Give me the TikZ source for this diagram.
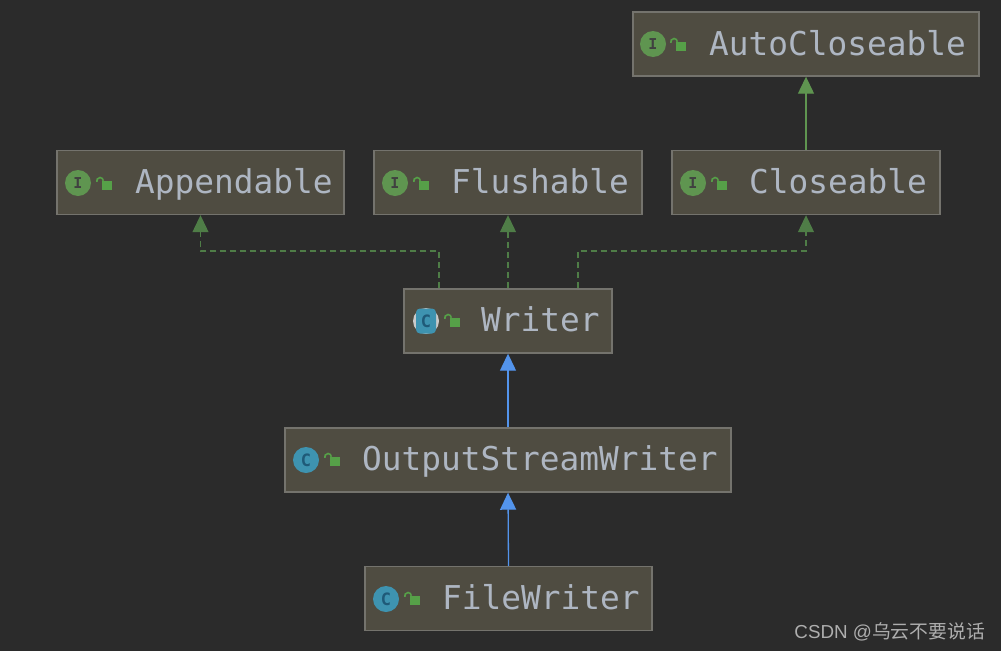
\documentclass[tikz,border=0pt]{standalone}
\usepackage{xcolor}
\usepackage{fontspec}
\setmonofont{DejaVu Sans Mono}
\newfontfamily\cjkfont{Noto Sans CJK SC}
\newfontfamily\markfont{Liberation Sans}
\usepackage{tikz}
\usetikzlibrary{arrows.meta, positioning}
\definecolor{canvas}{HTML}{2B2B2B}
\definecolor{boxfill}{HTML}{4F4C41}
\definecolor{boxline}{HTML}{74736D}
\definecolor{nametext}{HTML}{AEB6C2}
\definecolor{leafgreen}{HTML}{5F9550}
\definecolor{dashgreen}{HTML}{4F7D47}
\definecolor{iconblue}{HTML}{3E93B0}
\definecolor{letterblue}{HTML}{1F5A78}
\definecolor{extendblue}{HTML}{5394EC}

\begin{document}
\begin{tikzpicture}[
  x=1pt, y=-1pt,
  classbox/.style  = {rectangle, draw=boxline, line width=1.4pt, fill=boxfill,
                      minimum height=64pt, inner sep=0pt},
  classname/.style = {text=nametext, font=\ttfamily\fontsize{32.8}{36}\selectfont,
                      inner sep=0pt, anchor=base west},
  ifaceicon/.style = {circle, fill=leafgreen, minimum size=26pt, inner sep=0pt,
                      text=black!75, font=\ttfamily\bfseries\fontsize{15}{15}\selectfont},
  classicon/.style = {circle, fill=iconblue, minimum size=26pt, inner sep=0pt,
                      text=letterblue, font=\ttfamily\bfseries\fontsize{17}{17}\selectfont},
  lockbody/.style  = {rectangle, fill=leafgreen!90!green, minimum width=10pt,
                      minimum height=9pt, inner sep=0pt},
  lockhook/.style  = {draw=leafgreen!90!green, line width=1.6pt},
  extends/.style   = {-{Triangle[length=17pt,width=16pt]}, line width=1.3pt},
  implements/.style= {-{Triangle[length=17pt,width=16pt]}, line width=1.2pt, draw=dashgreen,
                      dash pattern=on 6pt off 4pt},
  watermark/.style = {text=white!62!canvas, font=\markfont\fontsize{18.8}{20}\selectfont,
                      inner sep=0pt, anchor=east}
]

\fill[canvas] (0,0) rectangle (1001,651);
\useasboundingbox (0,0) rectangle (1001,651);

% interfaces
\node[classbox, minimum width=346pt] (auto) at (806,44) {};
\node[ifaceicon] (autoicon) at (653,44) {I};
\node[lockbody] (autolock) at (681,46.5) {};
\draw[lockhook] (autolock.north west) ++(1.5,0) arc[start angle=0,end angle=-200,radius=3.3];
\node[classname] (autoname) at (709,55) {AutoCloseable};

\node[classbox, minimum width=287pt] (append) at (200.5,182.5) {};
\node[ifaceicon] (appendicon) at (78,183) {I};
\node[lockbody] (appendlock) at (107,185.5) {};
\draw[lockhook] (appendlock.north west) ++(1.5,0) arc[start angle=0,end angle=-200,radius=3.3];
\node[classname] (appendname) at (135,193) {Appendable};

\node[classbox, minimum width=268pt] (flush) at (508,182.5) {};
\node[ifaceicon] (flushicon) at (395,183) {I};
\node[lockbody] (flushlock) at (424,185.5) {};
\draw[lockhook] (flushlock.north west) ++(1.5,0) arc[start angle=0,end angle=-200,radius=3.3];
\node[classname] (flushname) at (451,193) {Flushable};

\node[classbox, minimum width=268pt] (close) at (806,182.5) {};
\node[ifaceicon] (closeicon) at (693,183) {I};
\node[lockbody] (closelock) at (722,185.5) {};
\draw[lockhook] (closelock.north west) ++(1.5,0) arc[start angle=0,end angle=-200,radius=3.3];
\node[classname] (closename) at (749,193) {Closeable};

% classes
\node[classbox, minimum width=208pt] (writer) at (508,321) {};
\fill[white!75!canvas] (426,321) circle[radius=13];
\node[classicon, rounded corners=4pt, rectangle, minimum width=20pt, minimum height=25pt] (writericon) at (426,321) {C};
\node[lockbody] (writerlock) at (455,322.5) {};
\draw[lockhook] (writerlock.north west) ++(1.5,0) arc[start angle=0,end angle=-200,radius=3.3];
\node[classname] (writername) at (481,331) {Writer};

\node[classbox, minimum width=446pt] (osw) at (508,460) {};
\node[classicon] (oswicon) at (306,460) {C};
\node[lockbody] (oswlock) at (335,461.5) {};
\draw[lockhook] (oswlock.north west) ++(1.5,0) arc[start angle=0,end angle=-200,radius=3.3];
\node[classname] (oswname) at (362,470) {OutputStreamWriter};

\node[classbox, minimum width=287pt] (file) at (508.5,598.5) {};
\node[classicon] (fileicon) at (386,599) {C};
\node[lockbody] (filelock) at (415,600.5) {};
\draw[lockhook] (filelock.north west) ++(1.5,0) arc[start angle=0,end angle=-200,radius=3.3];
\node[classname] (filename) at (442,609) {FileWriter};

% connectors
\coordinate (leftbend) at (439,251);
\coordinate (rightbend) at (578,251);
\draw[implements] (writer.north -| leftbend) -- (leftbend) -| (append.south);
\draw[implements] (writer.north) -- (flush.south);
\draw[implements] (writer.north -| rightbend) -- (rightbend) -| (close.south);
\draw[extends, draw=leafgreen] (close.north) -- (auto.south);
\draw[extends, draw=extendblue] (osw.north) -- (writer.south);
\draw[extends, draw=extendblue] (file.north) -- (osw.south);

\node[watermark] (mark) at (985,631.5) {CSDN @{\cjkfont 乌云不要说话}};

\end{tikzpicture}
\end{document}
